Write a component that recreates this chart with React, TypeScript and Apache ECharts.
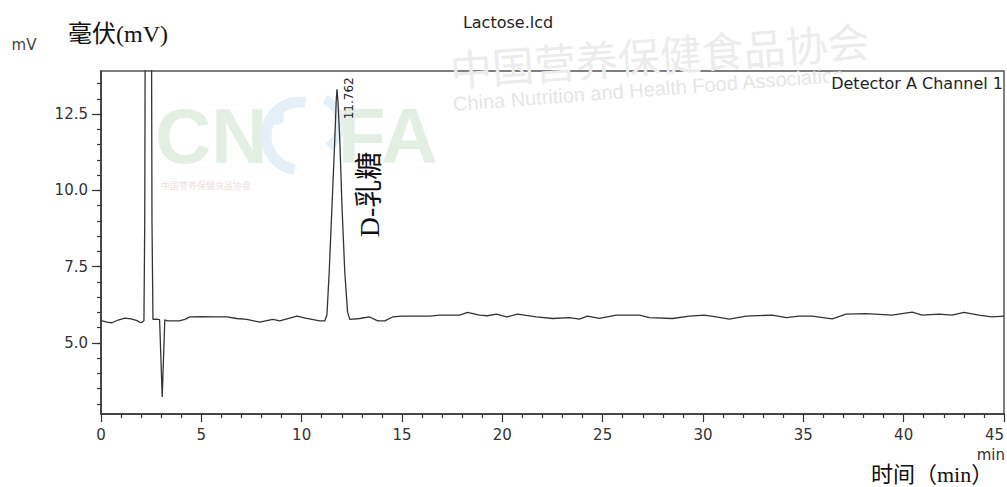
import React, { useEffect, useRef } from "react";
import * as echarts from "echarts";

const TITLE = "Lactose.lcd";
const CHANNEL = "Detector A Channel 1";
const Y_UNIT = "mV";
const Y_NAME_CN = "毫伏(mV)";
const X_UNIT = "min";
const X_NAME_CN = "时间（min）";
const PEAK_TIME_LABEL = "11.762";
const PEAK_TIME = 11.762;
const PEAK_NAME = "D-乳糖";
const WATERMARK_CN = "中国营养保健食品协会";
const WATERMARK_EN = "China Nutrition and Health Food Association";

const X_MIN = 0;
const X_MAX = 45;
const X_INTERVAL = 5;
const Y_MIN = 2.67;
const Y_MAX = 13.91;

const yLabelValues = [5, 7.5, 10, 12.5];
const yMinorTickValues = [3, 3.5, 4, 4.5, 5, 5.5, 6, 6.5, 7, 7.5, 8, 8.5, 9, 9.5, 10, 10.5, 11, 11.5, 12, 12.5, 13, 13.5];

const times = [
  0, 0.3, 0.55, 0.85, 1.2, 1.5, 1.8, 1.97, 2.08, 2.14,
  2.18, 2.22, 2.36, 2.5, 2.54, 2.59, 2.75, 2.92, 2.99, 3.05,
  3.11, 3.18, 3.3, 3.6, 3.9, 4.18, 4.43, 5.0, 5.6, 6.27,
  6.77, 7.27, 7.91, 8.56, 8.91, 9.76, 10.25, 10.9, 11.15, 11.26,
  11.37, 11.51, 11.65, 11.72, 11.76, 11.81, 11.9, 12.01, 12.15, 12.29,
  12.4, 12.89, 13.39, 13.79, 14.14, 14.53, 15.0, 15.8, 16.38, 16.87,
  17.87, 18.27, 18.86, 19.25, 19.71, 20.21, 20.76, 21.7, 22.5, 23.35,
  23.84, 24.24, 24.84, 25.68, 26.83, 27.33, 28.47, 29.32, 30.06, 30.66,
  31.31, 32.15, 33.45, 34.15, 34.79, 35.44, 36.44, 37.13, 38.13, 39.42,
  40.42, 40.92, 41.76, 42.41, 43.01, 43.75, 44.4, 45.0,
];
const signal = [
  5.73, 5.68, 5.66, 5.75, 5.81, 5.79, 5.73, 5.66, 5.69, 5.73,
  9.0, 20, 60, 20, 9.0, 5.77, 5.78, 5.76, 4.4, 3.23,
  4.4, 5.76, 5.72, 5.72, 5.72, 5.77, 5.85, 5.86, 5.85, 5.85,
  5.8, 5.77, 5.68, 5.77, 5.72, 5.88, 5.8, 5.72, 5.72, 5.92,
  7.3, 9.46, 11.65, 12.9, 13.31, 12.9, 11.65, 9.46, 7.3, 6.0,
  5.77, 5.8, 5.85, 5.72, 5.72, 5.85, 5.88, 5.88, 5.88, 5.91,
  5.91, 6.0, 5.91, 5.89, 5.94, 5.85, 5.94, 5.85, 5.8, 5.83,
  5.78, 5.88, 5.8, 5.91, 5.91, 5.83, 5.8, 5.88, 5.91, 5.85,
  5.78, 5.88, 5.91, 5.83, 5.88, 5.88, 5.79, 5.94, 5.96, 5.91,
  6.01, 5.91, 5.94, 5.91, 6.0, 5.91, 5.85, 5.88,
];

const SANS = "'DejaVu Sans', Arial, sans-serif";
const ARIAL = "'Liberation Sans', Arial, sans-serif";
const SERIF = "'Liberation Serif', 'Noto Sans CJK SC', serif";
const CJK = "'Noto Sans CJK SC', sans-serif";

export default function App() {
  const ref = useRef<HTMLDivElement>(null);

  useEffect(() => {
    if (!ref.current) return;
    const chart = echarts.init(ref.current, null, { renderer: "svg" });
    const data = times.map((t, i) => [t, signal[i]]);

    chart.setOption({
      animation: false,
      backgroundColor: "#ffffff",
      grid: {
        left: 101,
        right: 2,
        top: 71,
        bottom: 73,
        show: true,
        borderColor: "#555",
        borderWidth: 1.5,
        backgroundColor: "transparent",
      },
      xAxis: {
        type: "value",
        min: X_MIN,
        max: X_MAX,
        interval: X_INTERVAL,
        axisLine: { show: true, lineStyle: { color: "#333", width: 1.5 } },
        axisTick: { show: true, length: 8, lineStyle: { color: "#333", width: 1.2 } },
        minorTick: { show: true, splitNumber: 5, length: 4, lineStyle: { color: "#333", width: 1.2 } },
        axisLabel: {
          margin: 13,
          fontSize: 15,
          color: "#333",
          fontFamily: SANS,
          alignMaxLabel: "right",
        },
        splitLine: { show: false },
      },
      yAxis: [
        {
          type: "value",
          min: Y_MIN,
          max: Y_MAX,
          axisLine: { show: true, lineStyle: { color: "#333", width: 1.5 } },
          axisTick: { show: true, length: 9, customValues: yLabelValues, lineStyle: { color: "#333", width: 1.2 } },
          axisLabel: {
            customValues: yLabelValues,
            formatter: (v: number) => v.toFixed(1),
            margin: 13,
            fontSize: 15,
            color: "#333",
            fontFamily: SANS,
          },
          splitLine: { show: false },
        },
        {
          type: "value",
          min: Y_MIN,
          max: Y_MAX,
          position: "left",
          axisLine: { show: false },
          axisTick: { show: true, length: 4, customValues: yMinorTickValues, lineStyle: { color: "#333", width: 1.2 } },
          axisLabel: { show: false },
          splitLine: { show: false },
        },
      ],
      series: [
        {
          type: "line",
          data,
          xAxisIndex: 0,
          yAxisIndex: 0,
          showSymbol: false,
          symbol: "none",
          clip: true,
          z: 5,
          lineStyle: { color: "#333", width: 1.3 },
        },
      ],
    });

    let peakIdx = 0;
    times.forEach((t, i) => {
      if (Math.abs(t - PEAK_TIME) < Math.abs(times[peakIdx] - PEAK_TIME)) peakIdx = i;
    });
    const [px, py] = chart.convertToPixel({ gridIndex: 0 }, [times[peakIdx], signal[peakIdx]]) as number[];

    chart.setOption({
      graphic: [
        // faint watermark
        {
          type: "text", x: 155, y: 136, z: 0,
          style: { text: "CN", font: `bold 78px ${ARIAL}`, lineHeight: 60, fill: "#e3efe3", align: "left", verticalAlign: "middle" },
        },
        {
          type: "arc", z: 0,
          shape: { cx: 300, cy: 136, r: 34, startAngle: Math.PI * 0.55, endAngle: Math.PI * 1.55 },
          style: { stroke: "#e5eff7", lineWidth: 11, fill: "none" },
        },
        {
          type: "arc", z: 0,
          shape: { cx: 312, cy: 124, r: 28, startAngle: Math.PI * 1.65, endAngle: Math.PI * 0.3 },
          style: { stroke: "#e5eff7", lineWidth: 9, fill: "none" },
        },
        {
          type: "circle", z: 0,
          shape: { cx: 277, cy: 118, r: 7 },
          style: { fill: "#e5eff7" },
        },
        {
          type: "text", x: 338, y: 136, z: 0,
          style: { text: "FA", font: `bold 78px ${ARIAL}`, lineHeight: 60, fill: "#e3efe3", align: "left", verticalAlign: "middle" },
        },
        {
          type: "text", x: 161, y: 185, z: 0,
          style: { text: WATERMARK_CN, font: `9px ${CJK}`, fill: "#eedede", align: "left", verticalAlign: "middle" },
        },
        {
          type: "text", x: 450, y: 68, rotation: 0.07, z: 0,
          style: { text: WATERMARK_CN, font: `42px ${CJK}`, fill: "#ececec", align: "left", verticalAlign: "middle" },
        },
        {
          type: "text", x: 453, y: 104, rotation: 0.075, z: 0,
          style: { text: WATERMARK_EN, font: `20px ${ARIAL}`, fill: "#e6e6e6", align: "left", verticalAlign: "middle" },
        },
        // texts
        {
          type: "text", x: 508, y: 22, z: 10,
          style: { text: TITLE, font: `16px ${SANS}`, fill: "#222", align: "center", verticalAlign: "middle" },
        },
        {
          type: "text", x: 24, y: 45, z: 10,
          style: { text: Y_UNIT, font: `15px ${SANS}`, fill: "#444", align: "center", verticalAlign: "middle" },
        },
        {
          type: "text", x: 68, y: 34, z: 10,
          style: { text: Y_NAME_CN, font: `24px ${SERIF}`, fill: "#111", align: "left", verticalAlign: "middle" },
        },
        {
          type: "text", x: 1003, y: 83, z: 10,
          style: {
            text: CHANNEL, font: `16px ${SANS}`, fill: "#222", align: "right", verticalAlign: "middle",
            backgroundColor: "#fff", padding: [1, 0, 1, 2],
          },
        },
        {
          type: "text", x: 1005, y: 455, z: 10,
          style: { text: X_UNIT, font: `15px ${SANS}`, fill: "#333", align: "right", verticalAlign: "middle" },
        },
        {
          type: "text", x: 871, y: 474, z: 10,
          style: { text: X_NAME_CN, font: `22px ${SERIF}`, fill: "#111", align: "left", verticalAlign: "middle" },
        },
        {
          type: "text", x: px + 12, y: py + 30, rotation: Math.PI / 2, z: 10,
          style: { text: PEAK_TIME_LABEL, font: `12px ${SANS}`, fill: "#222", align: "left", verticalAlign: "middle" },
        },
        {
          type: "text", x: px + 33, y: py + 148, rotation: Math.PI / 2, z: 10,
          style: { text: PEAK_NAME, font: `28px ${SERIF}`, fill: "#111", align: "left", verticalAlign: "middle" },
        },
      ],
    });

    return () => chart.dispose();
  }, []);

  return (
    <div
      ref={ref}
      style={{ position: "absolute", left: 0, top: 0, width: 1007, height: 487 }}
    />
  );
}
